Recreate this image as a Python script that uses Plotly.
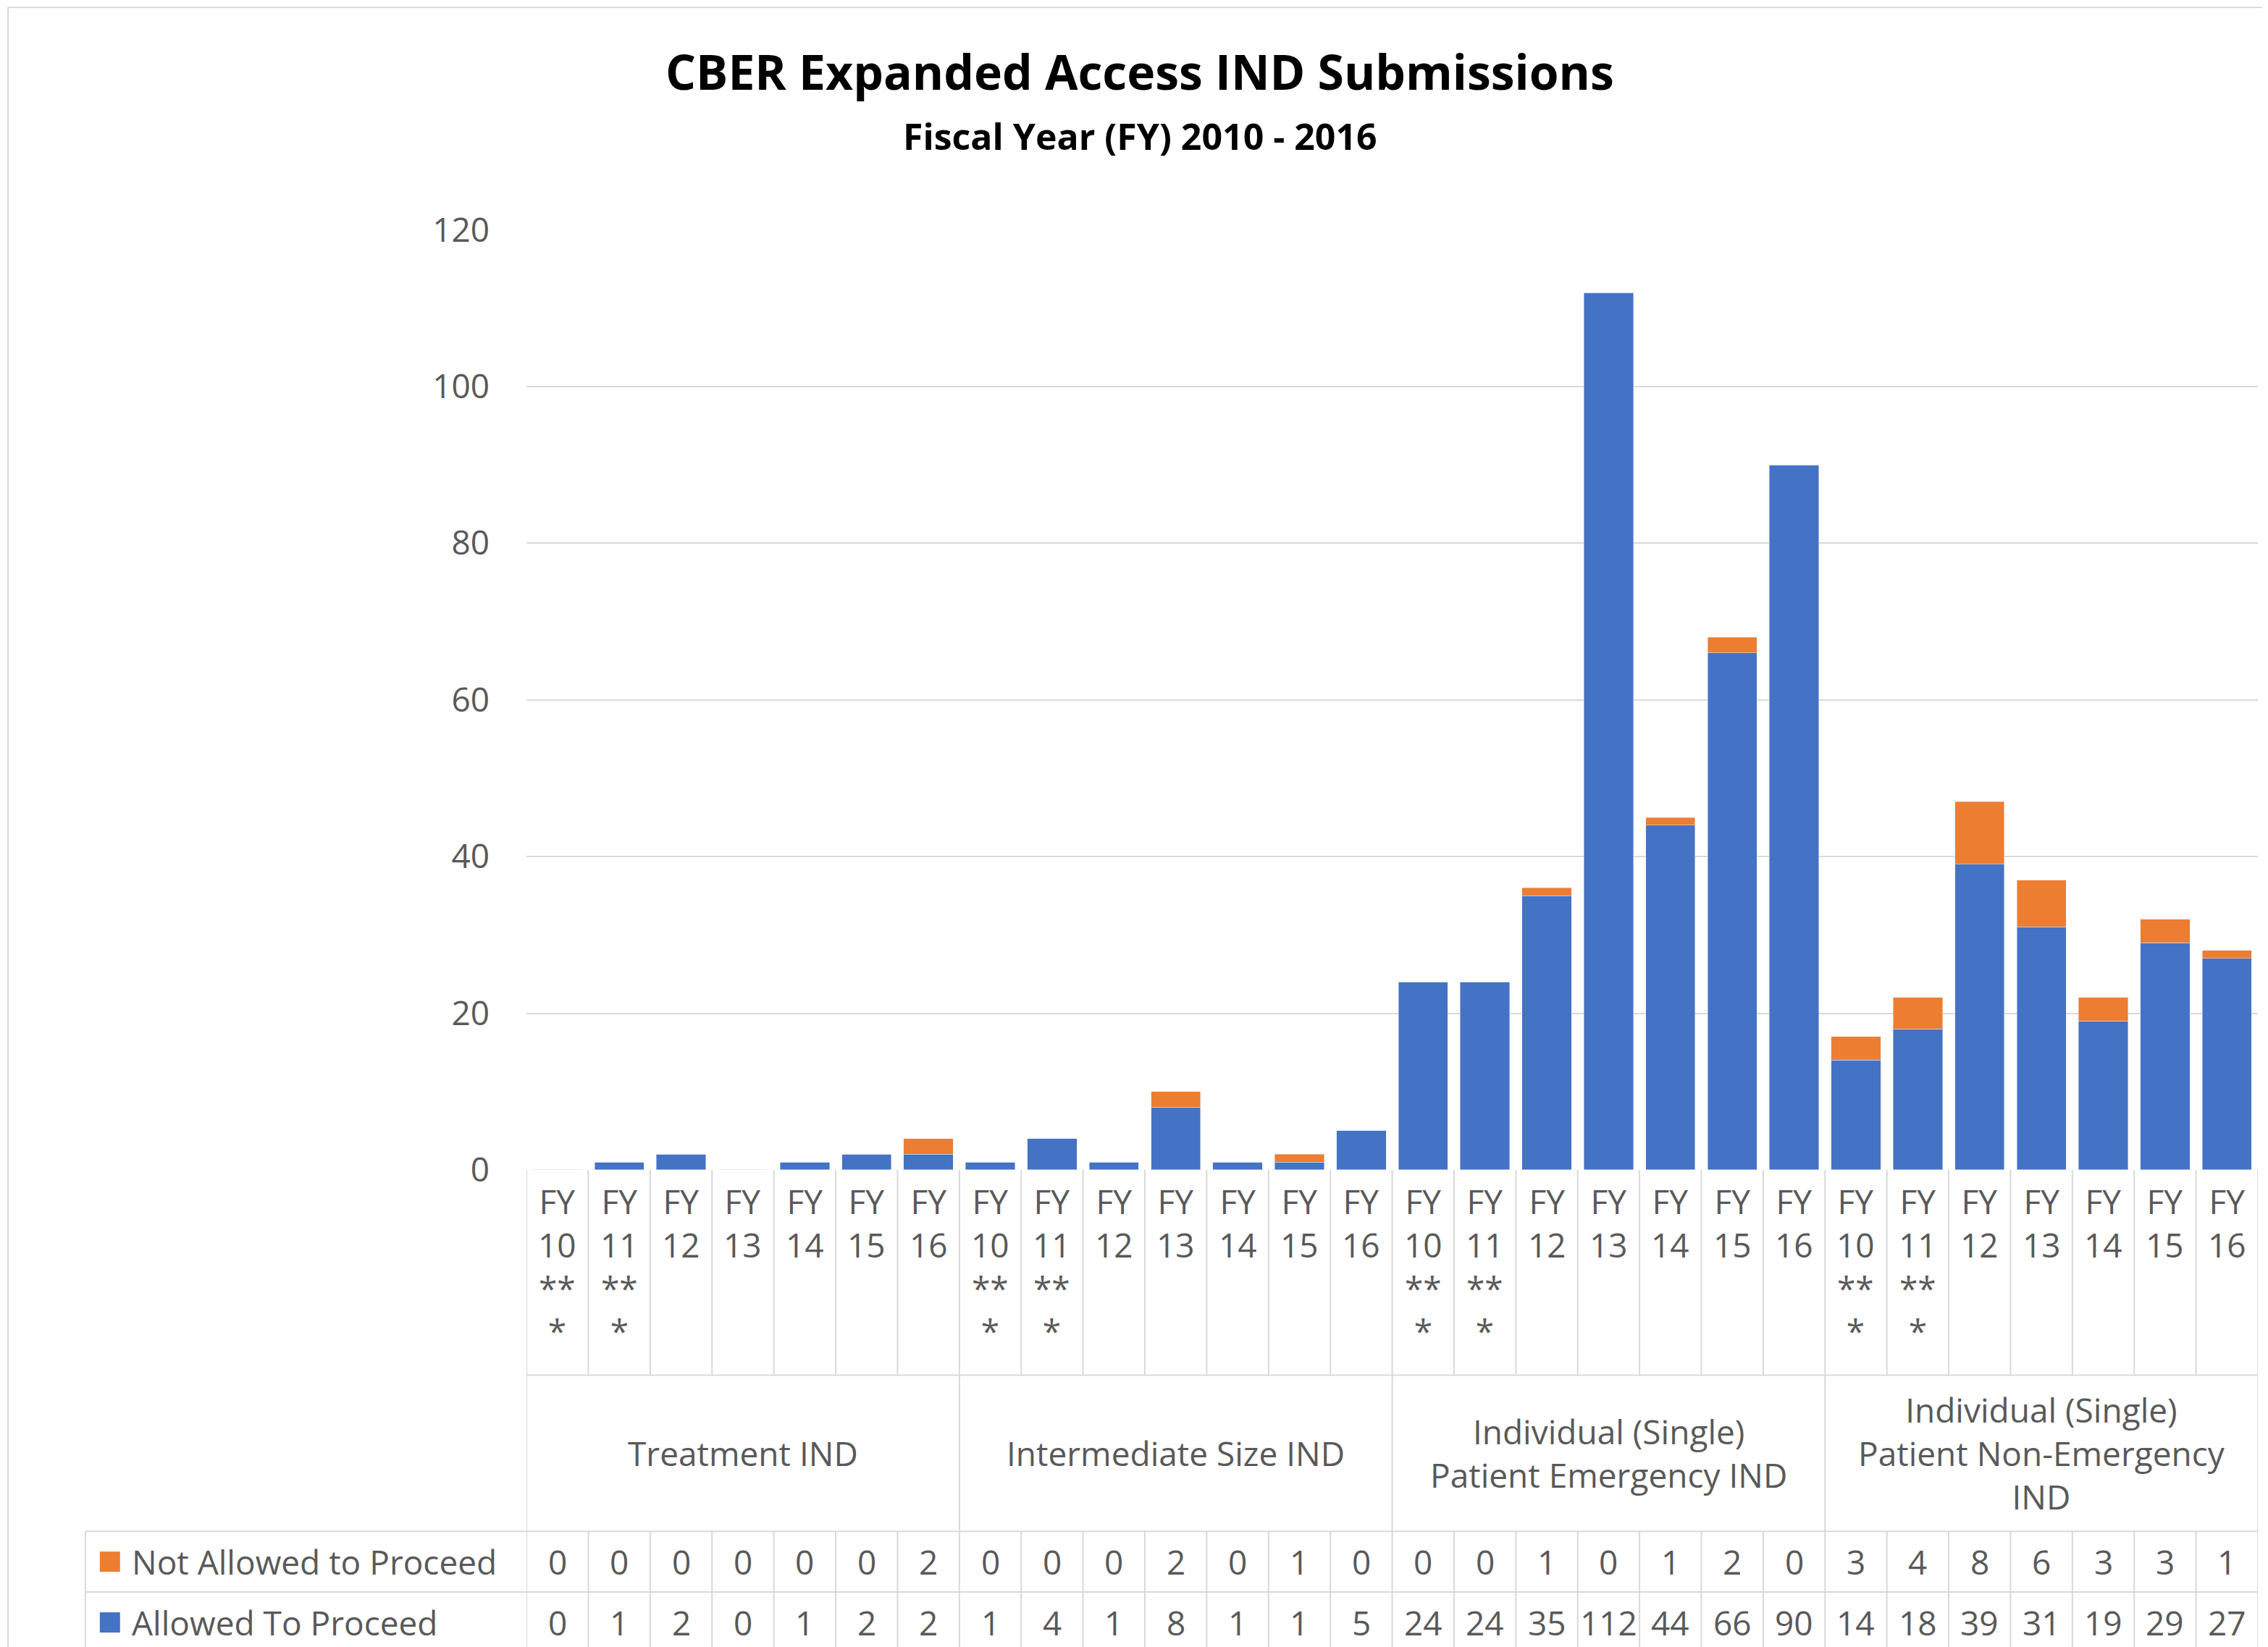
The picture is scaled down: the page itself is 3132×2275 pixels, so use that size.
import plotly.graph_objects as go

# data
groups = ["Treatment IND", "Intermediate Size IND",
          "Individual (Single)<br>Patient Emergency IND",
          "Individual (Single)<br>Patient Non-Emergency<br>IND"]
years = ["FY<br>10<br>**<br>*", "FY<br>11<br>**<br>*", "FY<br>12", "FY<br>13",
         "FY<br>14", "FY<br>15", "FY<br>16"]
allowed = [0, 1, 2, 0, 1, 2, 2,
           1, 4, 1, 8, 1, 1, 5,
           24, 24, 35, 112, 44, 66, 90,
           14, 18, 39, 31, 19, 29, 27]
not_allowed = [0, 0, 0, 0, 0, 0, 2,
               0, 0, 0, 2, 0, 1, 0,
               0, 0, 1, 0, 1, 2, 0,
               3, 4, 8, 6, 3, 3, 1]

BLUE = "#4472C4"
ORANGE = "#ED7D31"
LINE = "#D9D9D9"
TXT = "#595959"
W, H = 1568.0, 1139.0  # reference layout units


def px(x):
    return x / W


def py(y):
    return 1 - y / H


n = len(allowed)
xs = list(range(n))

fig = go.Figure()
fig.add_trace(go.Bar(x=xs, y=allowed, marker_color=BLUE, name="Allowed To Proceed"))
fig.add_trace(go.Bar(x=xs, y=not_allowed, marker_color=ORANGE, name="Not Allowed to Proceed"))

shapes = []
ann = []
FS = 46

# cell lines
for i in range(n + 1):
    xb = i - 0.5
    is_group = i % 7 == 0
    y_bot = py(1055) if is_group else py(947)
    shapes.append(dict(type="line", xref="x", yref="paper", x0=xb, x1=xb,
                       y0=py(805), y1=y_bot, line=dict(color=LINE, width=2)))
    shapes.append(dict(type="line", xref="x", yref="paper", x0=xb, x1=xb,
                       y0=py(1055), y1=py(1139), line=dict(color=LINE, width=2)))
shapes.append(dict(type="line", xref="x", yref="paper", x0=-0.5, x1=n - 0.5,
                   y0=py(947), y1=py(947), line=dict(color=LINE, width=2)))
for yy in [1055, 1097, 1138]:
    shapes.append(dict(type="line", xref="paper", yref="paper", x0=px(55), x1=px(1557),
                       y0=py(yy), y1=py(yy), line=dict(color=LINE, width=2)))
shapes.append(dict(type="line", xref="paper", yref="paper", x0=px(55), x1=px(55),
                   y0=py(1055), y1=py(1139), line=dict(color=LINE, width=2)))

# year labels and table values
for i in range(n):
    ann.append(dict(x=i, y=py(810), xref="x", yref="paper", text=years[i % 7],
                    showarrow=False, yanchor="top", font=dict(size=FS, color=TXT)))
    ann.append(dict(x=i, y=py(1076), xref="x", yref="paper", text=str(not_allowed[i]),
                    showarrow=False, yanchor="middle", font=dict(size=FS, color=TXT)))
    ann.append(dict(x=i, y=py(1118), xref="x", yref="paper", text=str(allowed[i]),
                    showarrow=False, yanchor="middle", font=dict(size=FS, color=TXT)))
for g, name in enumerate(groups):
    ann.append(dict(x=g * 7 + 3, y=py(1001), xref="x", yref="paper", text=name,
                    showarrow=False, yanchor="middle", font=dict(size=FS, color=TXT)))

# legend keys in table
for yy, col, label in [(1076, ORANGE, "Not Allowed to Proceed"), (1118, BLUE, "Allowed To Proceed")]:
    shapes.append(dict(type="rect", xref="paper", yref="paper", x0=px(65), x1=px(79),
                       y0=py(yy + 7), y1=py(yy - 7), fillcolor=col, line=dict(width=0)))
    ann.append(dict(x=px(86), y=py(yy), xref="paper", yref="paper", text=label,
                    showarrow=False, xanchor="left", yanchor="middle",
                    font=dict(size=FS, color=TXT)))

ann.append(dict(x=px(784), y=py(45), xref="paper", yref="paper",
                text="<b>CBER Expanded Access IND Submissions</b>", showarrow=False,
                yanchor="middle", font=dict(size=66, color="black")))
ann.append(dict(x=px(784), y=py(90), xref="paper", yref="paper",
                text="<b>Fiscal Year (FY) 2010 - 2016</b>", showarrow=False,
                yanchor="middle", font=dict(size=50, color="black")))

fig.update_layout(
    barmode="stack", bargap=0.2, showlegend=False,
    width=3132, height=2275,
    margin=dict(l=0, r=0, t=0, b=0, autoexpand=False),
    paper_bgcolor="white", plot_bgcolor="white",
    font=dict(family="Open Sans", color=TXT),
    shapes=shapes, annotations=ann,
    xaxis=dict(domain=[px(360), px(1557)], range=[-0.5, n - 0.5],
               showticklabels=False, showgrid=False, zeroline=False),
    yaxis=dict(domain=[py(805), py(155)], range=[0, 120], dtick=20,
               gridcolor=LINE, gridwidth=2, zeroline=False,
               tickfont=dict(size=46, color=TXT), ticklen=0, ticks="",
               ticklabelstandoff=50),
)
fig.add_shape(type="rect", xref="paper", yref="paper", x0=0.001, x1=0.999, y0=0.001, y1=0.999,
              line=dict(color=LINE, width=2))

fig.write_html("out.html")
